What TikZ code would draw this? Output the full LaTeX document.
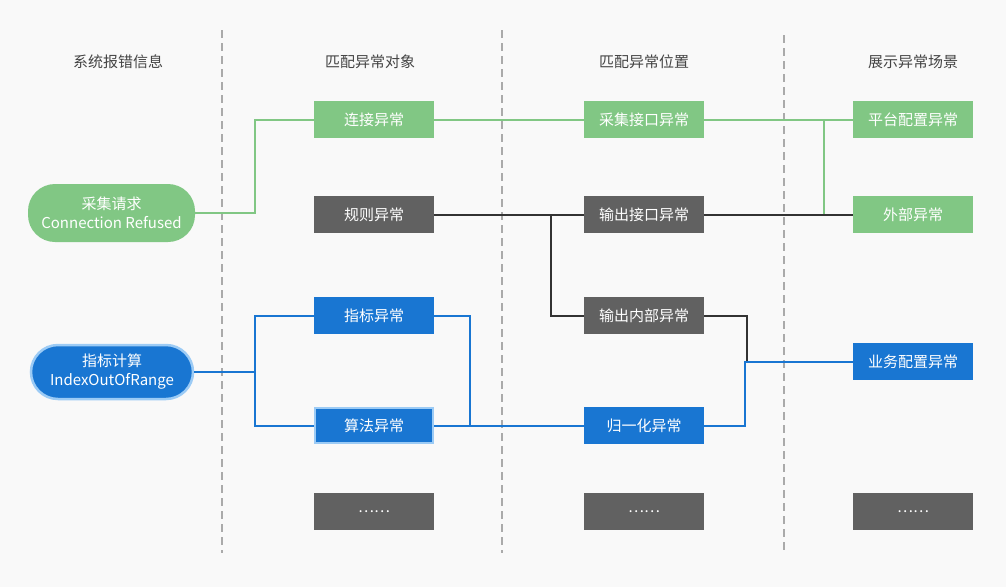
\documentclass[tikz,border=0pt]{standalone}
\usepackage{fontspec}
\setmainfont{Noto Sans CJK SC}
\definecolor{bg}{HTML}{F9F9F9}
\definecolor{okgreen}{HTML}{81C784}
\definecolor{midgray}{HTML}{616161}
\definecolor{errblue}{HTML}{1976D2}
\definecolor{errlight}{HTML}{9CCBF5}
\definecolor{wiregray}{HTML}{333333}
\definecolor{sepgray}{HTML}{AAAAAA}
\definecolor{headgray}{HTML}{444444}
\tikzset{
  box/.style={minimum width=120pt, minimum height=37pt, inner sep=0pt, text=white, font=\fontsize{15}{18}\selectfont},
  greenbox/.style={box, fill=okgreen},
  graybox/.style={box, fill=midgray},
  bluebox/.style={box, fill=errblue},
  pill/.style={rounded corners=27pt, align=center, inner sep=0pt, text=white, font=\fontsize{15}{19}\selectfont},
  head/.style={text=headgray, font=\fontsize{15}{18}\selectfont},
  gline/.style={okgreen, line width=2pt},
  dline/.style={wiregray, line width=2pt},
  bline/.style={errblue, line width=2pt},
  sepline/.style={sepgray, line width=2pt, dash pattern=on 8pt off 5pt}
}
\begin{document}
\begin{tikzpicture}[x=1pt,y=-1pt]
        \fill[bg] (0,0) rectangle (1006,587);
        \useasboundingbox (0,0) rectangle (1006,587);
        % column separators
        \foreach \x/\y in {222/30,502/30,784/35}
            \draw[sepline] (\x,\y) -- (\x,553);
        % headers
        \node[head] (h1) at (118,62) {系统报错信息};
        \node[head] (h2) at (370,62) {匹配异常对象};
        \node[head] (h3) at (644,62) {匹配异常位置};
        \node[head] (h4) at (913,62) {展示异常场景};
        % reported errors
        \node[pill, fill=okgreen, minimum width=167pt, minimum height=58pt] (caiji) at (111.5,213) {采集请求\\Connection Refused};
        \node[pill, fill=errblue, draw=errlight, line width=2.5pt, minimum width=162pt, minimum height=54pt] (zhibiao) at (112,372) {指标计算\\IndexOutOfRange};
        % matched objects
        \node[greenbox] (lianjie) at (374,119.5) {连接异常};
        \node[graybox] (guize) at (374,214.5) {规则异常};
        \node[bluebox] (zbyc) at (374,315.5) {指标异常};
        \node[bluebox, draw=errlight, line width=2pt, minimum width=118pt, minimum height=35pt] (suanfa) at (374,425.5) {算法异常};
        \node[graybox] (more2) at (374,511.5) {……};
        % matched positions
        \node[greenbox] (cjjk) at (644,119.5) {采集接口异常};
        \node[graybox] (scjk) at (644,214.5) {输出接口异常};
        \node[graybox] (scnb) at (644,315.5) {输出内部异常};
        \node[bluebox] (guiyi) at (644,425.5) {归一化异常};
        \node[graybox] (more3) at (644,511.5) {……};
        % scenes
        \node[greenbox] (pingtai) at (913,119.5) {平台配置异常};
        \node[greenbox] (waibu) at (913,214.5) {外部异常};
        \node[bluebox] (yewu) at (913,361.5) {业务配置异常};
        \node[graybox] (more4) at (913,511.5) {……};
        % green paths
        \draw[gline] (caiji.east) -- ++(60,0) |- (lianjie.west);
        \draw[gline] (lianjie.east) -- (cjjk.west);
        \draw[gline] (cjjk.east) -- (pingtai.west);
        \draw[gline] (cjjk.east) ++(120,0) |- (waibu.west);
        % gray paths
        \draw[dline] (guize.east) -- (scjk.west);
        \draw[dline] (guize.east) ++(117,0) |- (scnb.west);
        \draw[dline] (scjk.east) -- (waibu.west);
        \draw[dline] (scnb.east) -- ++(43,0) |- (yewu.west);
        % blue paths
        \draw[bline] (zhibiao.east) -- ++(61,0) coordinate (zsplit) |- (zbyc.west);
        \draw[bline] (zsplit) |- (suanfa.west);
        \draw[bline] (zbyc.east) -- ++(36,0) |- (guiyi.west);
        \draw[bline] (suanfa.east) -- (guiyi.west);
        \draw[bline] (guiyi.east) -- ++(41,0) |- (yewu.west);
    \end{tikzpicture}
\end{document}
